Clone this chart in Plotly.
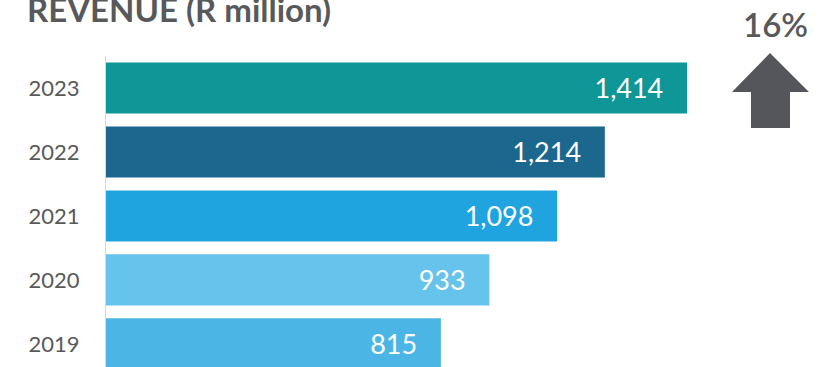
import plotly.graph_objects as go

years = ["2019", "2020", "2021", "2022", "2023"]
revenue = [815, 933, 1098, 1214, 1414]
bar_colors = ["#4BB6E6", "#66C3EB", "#20A4E0", "#1B678E", "#0E9796"]
value_labels = ["815", "933", "1,098", "1,214", "1,414"]
title_text = "REVENUE (R million)"
growth_text = "16%"

W, H = 830, 367
L, T = 106, 56
R = 0
PW = W - L - R
PH = H - T

def px(x):
    return (x - L) / PW

def py(y):
    return (H - y) / PH

pad = "\u00a0" * 3
fig = go.Figure()
fig.add_trace(go.Bar(
    x=revenue, y=years, orientation="h",
    marker=dict(color=bar_colors, line=dict(width=0)),
    width=0.8, hoverinfo="skip",
    text=[lab + pad for lab in value_labels],
    textposition="inside", insidetextanchor="end",
    textangle=0, constraintext="none",
    insidetextfont=dict(family="Lato", size=27, color="white"),
))

annotations = []
annotations.append(dict(
    x=px(25), y=py(9), xref="paper", yref="paper", text="<b>" + title_text + "</b>",
    showarrow=False, xanchor="left", yanchor="middle",
    font=dict(family="Lato", size=33, color="#58595B"),
))
annotations.append(dict(
    x=px(775), y=py(24), xref="paper", yref="paper", text=growth_text,
    showarrow=False, xanchor="center", yanchor="middle",
    font=dict(family="Lato", size=33, color="#58595B", weight=600),
))

arrow_pts = [(732, 92), (770, 53), (809, 92), (790, 92), (790, 128), (751, 128), (751, 92)]
path = "M " + " L ".join(f"{px(a):.5f},{py(b):.5f}" for a, b in arrow_pts) + " Z"

fig.update_layout(
    width=W, height=H,
    margin=dict(l=L, r=R, t=T, b=0, pad=0),
    paper_bgcolor="white", plot_bgcolor="white",
    showlegend=False,
    bargap=0.2,
    xaxis=dict(range=[0, PW / 0.4109], showline=False, showgrid=False,
               zeroline=False, showticklabels=False, ticks="", fixedrange=True),
    yaxis=dict(
        type="category", categoryorder="array", categoryarray=years,
        range=[-0.36, 4.5],
        showline=True, linecolor="#D9D9D9", linewidth=1,
        showgrid=False, zeroline=False, ticks="",
        ticklabelstandoff=21,
        tickfont=dict(family="Lato", size=22, color="#58595B"),
    ),
    annotations=annotations,
    shapes=[dict(type="path", path=path, xref="paper", yref="paper",
                 fillcolor="#54565B", line=dict(width=0))],
)

fig.write_html("out.html")
